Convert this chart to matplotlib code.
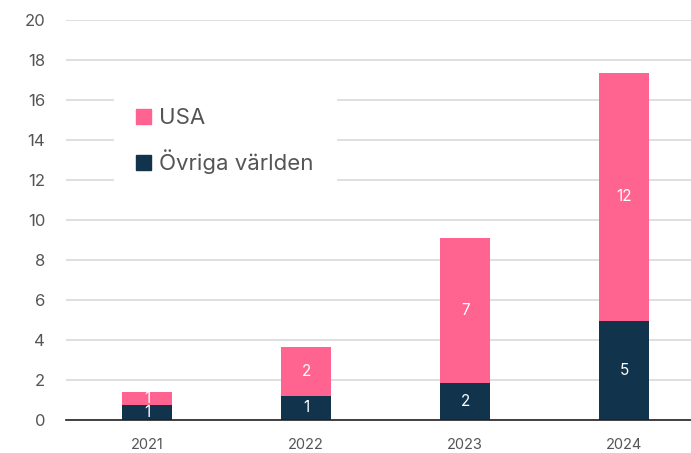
import matplotlib
matplotlib.use("Agg")
import matplotlib.pyplot as plt
from matplotlib.patches import Patch

years = ["2021", "2022", "2023", "2024"]
ovriga = [0.75, 1.2, 1.85, 4.97]
usa = [0.65, 2.45, 7.25, 12.4]
ovriga_labels = ["1", "1", "2", "5"]
usa_labels = ["1", "2", "7", "12"]
yticks = [0, 2, 4, 6, 8, 10, 12, 14, 16, 18, 20]

plt.rcParams['font.family'] = ['Inter', 'DejaVu Sans']
pink = "#FF6491"
navy = "#12334C"
tcol = "#555555"

fig = plt.figure(figsize=(6.91, 4.53), dpi=100)
ax = fig.add_axes([66/691, 1-420/453, 1-66/691, 400/453])

x = list(range(len(years)))
w = 0.315
ax.bar(x, ovriga, width=w, color=navy, zorder=3)
ax.bar(x, usa, width=w, bottom=ovriga, color=pink, zorder=3)
for i in x:
    ax.text(i, ovriga[i]/2, ovriga_labels[i], ha='center', va='center', color='white', fontsize=11, zorder=4)
    ax.text(i, ovriga[i] + usa[i]/2, usa_labels[i], ha='center', va='center', color='white', fontsize=11, zorder=4)

ax.set_xlim(-0.51, 3.42)
ax.set_ylim(0, 20)
ax.set_yticks(yticks)
ax.set_xticks(x)
ax.set_xticklabels(years)
ax.tick_params(axis='y', length=0, pad=15, labelsize=12, labelcolor=tcol)
ax.tick_params(axis='x', length=0, pad=13, labelsize=10.5, labelcolor=tcol)
ax.grid(axis='y', color='#d9d9d9', linewidth=1.2, zorder=0)
for s in ['top', 'right', 'left']:
    ax.spines[s].set_visible(False)
ax.spines['bottom'].set_color('#222222')
ax.spines['bottom'].set_linewidth(1.2)
ax.spines['bottom'].set_zorder(5)

handles = [Patch(color=pink, label='USA'), Patch(color=navy, label='Övriga världen')]
leg = ax.legend(handles=handles, loc='upper left', bbox_to_anchor=(0.077, 0.835),
                frameon=True, fontsize=16, handlelength=0.68, handleheight=0.68,
                handletextpad=0.35, labelspacing=0.95, borderpad=1.0, borderaxespad=0,
                labelcolor=tcol, fancybox=False)
leg.get_frame().set_facecolor('white')
leg.get_frame().set_edgecolor('white')
leg.get_frame().set_alpha(1)
leg.set_zorder(6)

fig.savefig("out.png", dpi=100)
